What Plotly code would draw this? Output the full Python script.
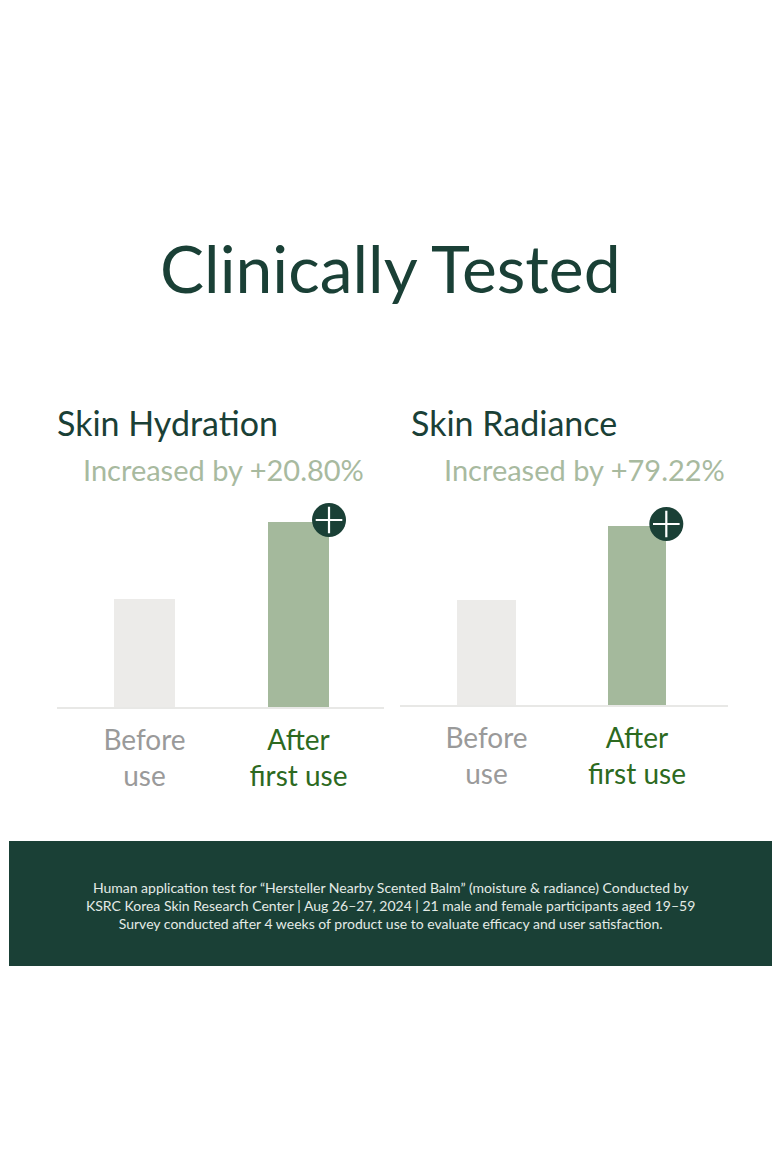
import plotly.graph_objects as go

W, H = 780, 1170

# ---- data ----
categories = ["Before use", "After first use"]
hydration_values = [108, 185]     # relative bar heights (illustrative)
radiance_values = [105, 179]
tick_labels = [
    "<span style='color:#9a9a9a'>Before</span><br><span style='color:#9a9a9a'>use</span>",
    "<span style='color:#2d6a1f'>After</span><br><span style='color:#2d6a1f'>first use</span>",
]
panel_titles = ["Skin Hydration", "Skin Radiance"]
panel_subtitles = ["Increased by +20.80%", "Increased by +79.22%"]
main_title = "Clinically Tested"
footer_lines = [
    "Human application test for \u201cHersteller Nearby Scented Balm\u201d (moisture &amp; radiance) Conducted by",
    "KSRC Korea Skin Research Center | Aug 26\u201327, 2024 | 21 male and female participants aged 19\u201359",
    "Survey conducted after 4 weeks of product use to evaluate efficacy and user satisfaction.",
]

DARK = "#1a4036"
BAR_BEFORE = "#ecebe9"
BAR_AFTER = "#a4b99c"
SUB = "#a8ba9f"
FONT = "Lato"

def px_x(p):
    return p / W

def px_y(p):
    return 1 - p / H

fig = go.Figure()

panels = [
    dict(vals=hydration_values, xd=(57, 384), base=707, top=500, xr=(-0.568, 1.555), bw=0.396, xa="x", ya="y"),
    dict(vals=radiance_values, xd=(400, 728), base=705, top=500, xr=(-0.575, 1.605), bw=0.39, xa="x2", ya="y2"),
]

for i, p in enumerate(panels):
    fig.add_trace(go.Bar(
        x=[0, 1], y=p["vals"], width=p["bw"],
        marker=dict(color=[BAR_BEFORE, BAR_AFTER], line=dict(width=0)),
        xaxis=p["xa"], yaxis=p["ya"], showlegend=False, hoverinfo="skip",
    ))
    # plus badge at the top-right corner of the "after" bar
    cx = 1 + p["bw"] / 2
    cy = p["vals"][1] + 2
    fig.add_trace(go.Scatter(
        x=[cx], y=[cy], mode="markers",
        marker=dict(size=34, color=DARK, line=dict(width=0)),
        xaxis=p["xa"], yaxis=p["ya"], showlegend=False, hoverinfo="skip", cliponaxis=False,
    ))
    fig.add_trace(go.Scatter(
        x=[cx], y=[cy], mode="markers",
        marker=dict(size=19, symbol="cross-thin-open", color="white",
                    line=dict(width=2.2, color="white")),
        xaxis=p["xa"], yaxis=p["ya"], showlegend=False, hoverinfo="skip", cliponaxis=False,
    ))
    rng = p["base"] - p["top"]
    xkey = "xaxis" if i == 0 else "xaxis2"
    ykey = "yaxis" if i == 0 else "yaxis2"
    fig.update_layout(**{
        xkey: dict(
            domain=[px_x(p["xd"][0]), px_x(p["xd"][1])], range=list(p["xr"]),
            tickvals=[0, 1], ticktext=tick_labels, showgrid=False, zeroline=False,
            showline=True, linecolor="#e8e8e6", linewidth=2, ticks="",
            tickfont=dict(family=FONT, size=28), anchor="y" if i == 0 else "y2",
            fixedrange=True, ticklabelstandoff=7,
        ),
        ykey: dict(
            domain=[px_y(p["base"]), px_y(p["top"])], range=[0, rng],
            visible=False, anchor="x" if i == 0 else "x2", fixedrange=True,
        ),
    })

annotations = [
    dict(text=main_title, x=0.5, y=px_y(268), xref="paper", yref="paper",
         xanchor="center", yanchor="middle", showarrow=False,
         font=dict(family=FONT, size=66, color=DARK)),
    dict(text=panel_titles[0], x=px_x(55), y=px_y(422), xref="paper", yref="paper",
         xanchor="left", yanchor="middle", showarrow=False,
         font=dict(family=FONT, size=34, color=DARK)),
    dict(text=panel_titles[1], x=px_x(409), y=px_y(422), xref="paper", yref="paper",
         xanchor="left", yanchor="middle", showarrow=False,
         font=dict(family=FONT, size=34, color=DARK)),
    dict(text=panel_subtitles[0], x=px_x(81), y=px_y(469), xref="paper", yref="paper",
         xanchor="left", yanchor="middle", showarrow=False,
         font=dict(family=FONT, size=29, color=SUB)),
    dict(text=panel_subtitles[1], x=px_x(442), y=px_y(469), xref="paper", yref="paper",
         xanchor="left", yanchor="middle", showarrow=False,
         font=dict(family=FONT, size=29, color=SUB)),
    dict(text="<br>".join(footer_lines), x=0.5, y=px_y(905), xref="paper", yref="paper",
         xanchor="center", yanchor="middle", showarrow=False, align="center",
         font=dict(family=FONT, size=14, color="#e4ebe6")),
]

shapes = [
    dict(type="rect", xref="paper", yref="paper", x0=px_x(9), x1=px_x(772),
         y0=px_y(966), y1=px_y(841), fillcolor=DARK, line=dict(width=0), layer="below"),
]

fig.update_layout(
    width=W, height=H, margin=dict(l=0, r=0, t=0, b=0),
    paper_bgcolor="white", plot_bgcolor="white",
    annotations=annotations, shapes=shapes, bargap=0, showlegend=False,
)

fig.write_html(
    "out.html",
    config={"displayModeBar": False},
    post_script="document.body.style.margin='0';document.body.style.padding='0';",
)
